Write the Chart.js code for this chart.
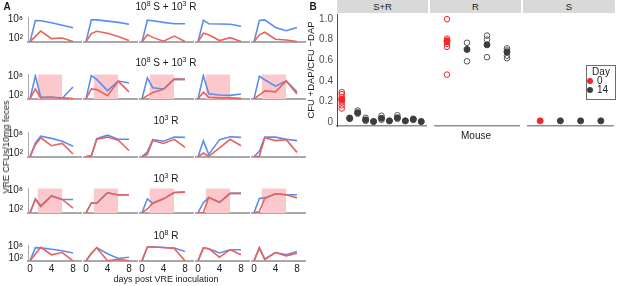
<!DOCTYPE html>
<html><head><meta charset="utf-8">
<script src="https://cdn.jsdelivr.net/npm/chart.js@4.4.1/dist/chart.umd.min.js"></script>
<style>
html,body{margin:0;padding:0;background:#fff;}
body{width:617px;height:286px;position:relative;overflow:hidden;font-family:"Liberation Sans",Arial,sans-serif;color:#1a1a1a;}
canvas{position:absolute;}
.t{position:absolute;white-space:nowrap;font-size:10px;line-height:12px;transform:translate(-50%,-50%);}
.t sup{font-size:7px;line-height:0;vertical-align:4px;}
</style></head><body>
<script>
// ---------------- DATA : panel A ----------------
const days = [0, 1, 2, 4, 6, 8];
const rowTitles = ['10⁸ S + 10³ R', '10⁸ S + 10³ R', '10³ R', '10³ R', '10⁸ R'];
const rowShaded = [false, true, false, true, false];
const shadeWindow = [1.4, 6];      // days of the shaded window
const shadeTop = 8.45;             // log10 CFU
const yTicksA = [2, 8];
const yTickLabelsA = ['10²', '10⁸'];
const xTicksA = [0, 4, 8];

// log10 VRE CFUs, one array per mouse (columns), one pair per row
const row1Blue = [[0.8,7.5,7.4,6.8,6.0,5.2],[0.8,7.7,7.7,7.3,6.9,6.3],[0.8,7.6,7.4,6.9,6.5,6.5],[0.8,7.6,6.5,6.4,6.3,5.7],[0.8,7.5,7.7,5.3,4.3,5.3]];
const row1Red  = [[0.8,2.5,4.2,1.8,2.0,0.9],[0.8,3.4,4.1,3.5,2.5,1.2],[0.8,3.0,2.2,1.0,2.6,0.9],[0.8,3.5,3.0,1.2,2.1,0.9],[0.8,3.0,3.8,1.6,1.4,0.9]];
const row2Blue = [[0.8,8.0,1.3,1.4,1.0,4.5],[0.8,8.1,6.9,3.4,6.4,5.8],[0.8,7.4,4.3,3.9,7.0,6.9],[0.8,8.1,2.4,2.0,1.9,2.3],[0.8,7.9,6.8,4.8,6.4,3.0]];
const row2Red  = [[0.8,3.9,1.1,1.2,1.1,0.9],[0.8,3.9,3.7,1.8,6.3,3.0],[0.8,1.8,2.8,3.8,7.0,6.9],[0.8,2.9,1.3,1.1,1.1,1.0],[0.8,2.0,3.3,3.0,6.4,2.3]];
const row3Blue = [[0.8,5.2,7.3,6.6,5.7,4.1],[0.8,1.2,6.5,7.6,6.3,6.3],[0.8,2.4,6.2,5.7,7.0,6.9],[0.8,5.9,1.5,6.2,7.1,6.9],[0.8,2.5,7.0,7.0,6.3,5.9]];
const row3Red  = [[0.8,4.6,6.8,4.3,5.0,1.7],[0.8,1.1,6.3,7.0,6.0,2.8],[0.8,1.6,5.9,5.0,6.3,3.8],[0.8,2.0,0.9,3.6,6.3,4.3],[0.8,1.0,6.8,5.9,6.2,2.2]];
const row4Blue = [[0.8,5.2,3.0,6.2,5.0,5.0],[0.8,3.9,3.8,7.1,6.4,6.5],[0.8,5.2,3.8,5.2,7.2,7.3],[0.8,4.0,5.6,4.1,6.9,6.9],[0.8,5.3,5.5,6.8,6.5,6.5]];
const row4Red  = [[0.8,5.0,2.8,6.0,5.0,2.3],[0.8,3.9,3.8,7.1,6.4,6.5],[0.8,2.0,3.8,5.2,7.2,7.3],[0.8,0.9,5.6,4.1,6.9,6.9],[0.8,1.2,5.3,6.8,6.5,5.5]];
const row5Blue = [[0.8,7.3,7.2,6.5,5.8,4.7],[0.8,4.5,7.3,4.3,2.0,2.6],[0.8,7.6,7.6,7.4,7.1,5.4],[0.8,7.2,6.8,4.7,6.3,6.3],[0.8,7.2,1.6,4.9,3.8,5.4]];
const row5Red  = [[0.8,4.2,7.4,3.8,4.9,0.8],[0.8,4.5,7.3,0.9,1.6,0.8],[0.8,7.6,7.6,7.4,6.9,0.8],[0.8,7.2,6.8,2.6,6.3,3.8],[0.8,7.2,1.6,4.9,3.3,4.6]];

// ---------------- DATA : panel B ----------------
const facets = ['S+R', 'R', 'S'];
const yTicksB = [0, 0.2, 0.4, 0.6, 0.8, 1];
const legendDays = ['0', '14'];
const srDay0Open = [0.29, 0.27, 0.24, 0.21, 0.19, 0.16, 0.13];
const srDay0Mean = [0.22];
const srDay14Mean = [0.035, 0.09, 0.02, 0.005, 0.035, 0.01, 0.04, 0.01, 0.025, 0.005];
const srDay14Open = [[0.04,0.03],[0.11,0.08],[0.04,0.01],[0.0],[0.06,0.02],[0.01],[0.065,0.03],[0.01],[0.03,0.02],[0.0]];
const rDay0Open = [1.0, 0.81, 0.78, 0.76, 0.73, 0.46];
const rDay0Mean = [0.79];
const rDay14Mean = [0.705, 0.75, 0.68];
const rDay14Open = [[0.77, 0.59], [0.84, 0.80, 0.63], [0.715, 0.695, 0.645, 0.62]];
const sDay0Mean = [0.01];
const sDay14Mean = [0.01, 0.01, 0.01];

// ---------------- styles / layout ----------------
const BLUE = '#5b8dec', RED = '#e8635f', PINK = '#fbc9cc', AXIS = '#a9a9a9';
const BRED = '#f0262b', DARK = '#3d3d3d', OPEN_GRAY = '#555555';
Chart.defaults.font.family = '"Liberation Sans", Arial, sans-serif';
const rowTop = [17, 74, 132, 188, 245];
const rowBase = [42, 99, 157, 213, 261];
const colLeft = [28, 84, 140, 196, 252];
const plotW = 53;
const X_MIN = -0.37, X_MAX = 9.49, Y_MIN = 0.75, Y_MAX = 8.6;
const rowsBlue = [row1Blue, row2Blue, row3Blue, row4Blue, row5Blue];
const rowsRed = [row1Red, row2Red, row3Red, row4Red, row5Red];

function makeCanvas(left, top, w, h) {
  const c = document.createElement('canvas');
  c.width = w; c.height = h;
  c.style.left = left + 'px'; c.style.top = top + 'px';
  c.style.width = w + 'px'; c.style.height = h + 'px';
  document.body.appendChild(c);
  return c;
}
function label(text, cx, cy, extra) {
  const d = document.createElement('div');
  d.className = 't';
  d.textContent = text;
  d.style.left = cx + 'px'; d.style.top = cy + 'px';
  if (extra) Object.assign(d.style, extra);
  document.body.appendChild(d);
  return d;
}
const SUP = {'⁰':'0','¹':'1','²':'2','³':'3','⁴':'4','⁵':'5','⁶':'6','⁷':'7','⁸':'8','⁹':'9'};
function supLabel(text, cx, cy) {
  const d = label('', cx, cy);
  for (const ch of text) {
    if (SUP[ch]) { const s = document.createElement('sup'); s.textContent = SUP[ch]; d.appendChild(s); }
    else d.appendChild(document.createTextNode(ch));
  }
  return d;
}

function panelA(r, c) {
  const isLeft = c === 0, isBottom = r === 4;
  const padL = isLeft ? 30 : 2, padT = 6, padR = 2, padB = isBottom ? 16 : 3;
  const plotH = rowBase[r] - rowTop[r];
  const cv = makeCanvas(colLeft[c] - padL, rowTop[r] - padT, padL + plotW + padR, padT + plotH + padB);
  const datasets = [
    {data: days.map((d, i) => ({x: d, y: rowsRed[r][c][i]})), borderColor: RED, borderWidth: 1.6, pointRadius: 0, order: 1, fill: false},
    {data: days.map((d, i) => ({x: d, y: rowsBlue[r][c][i]})), borderColor: BLUE, borderWidth: 1.6, pointRadius: 0, order: 2, fill: false}
  ];
  if (rowShaded[r]) {
    datasets.push({data: shadeWindow.map(x => ({x: x, y: shadeTop})), borderColor: 'rgba(0,0,0,0)', borderWidth: 0,
      backgroundColor: PINK, fill: 'start', pointRadius: 0, order: 3});
  }
  new Chart(cv, {
    type: 'line',
    data: {datasets},
    options: {
      responsive: false, animation: false, events: [],
      layout: {padding: {left: isLeft ? 0 : padL, top: padT, right: padR, bottom: 0}},
      plugins: {legend: {display: false}, tooltip: {enabled: false}},
      scales: {
        x: {type: 'linear', min: X_MIN, max: X_MAX,
          grid: {display: false, drawTicks: false},
          border: {display: true, color: AXIS, width: 2},
          ticks: {display: isBottom, font: {size: 10}, color: '#1a1a1a', padding: 2, maxRotation: 0, autoSkip: false},
          afterBuildTicks: s => { s.ticks = xTicksA.map(v => ({value: v})); },
          afterFit: s => { s.height = padB; s.paddingLeft = 0; s.paddingRight = 0; }},
        y: {type: 'linear', min: Y_MIN, max: Y_MAX, display: isLeft,
          grid: {display: false, drawTicks: false},
          border: {display: true, color: AXIS, width: 1},
          ticks: {font: {size: 10}, color: '#1a1a1a', padding: 5,
            callback: v => yTickLabelsA[yTicksA.indexOf(v)]},
          afterBuildTicks: s => { s.ticks = yTicksA.map(v => ({value: v})); },
          afterFit: s => { s.width = isLeft ? padL : 0; s.paddingTop = 0; s.paddingBottom = 0; }}
      }
    }
  });
}
for (let r = 0; r < 5; r++) for (let c = 0; c < 5; c++) panelA(r, c);

// ---------------- panel B ----------------
const B_TOP = 14, B_BOTTOM = 128;
const facetLeft = [337, 430, 523], facetW = [91, 91, 92];
function pts(xs, ys) { return ys.map((y, i) => ({x: xs[i], y: y})); }
function ds(data, style) {
  return Object.assign({data, showLine: false, clip: false, pointRadius: 2.8, pointBorderWidth: 1}, style);
}
const openRed = {pointBackgroundColor: 'rgba(0,0,0,0)', pointBorderColor: BRED, order: 3};
const fillRed = {pointBackgroundColor: BRED, pointBorderColor: BRED, order: 1, pointRadius: 3};
const openGray = {pointBackgroundColor: 'rgba(0,0,0,0)', pointBorderColor: OPEN_GRAY, order: 3};
const fillDark = {pointBackgroundColor: DARK, pointBorderColor: DARK, order: 1, pointRadius: 3};

function flatOpen(groups, startX) {
  const out = [];
  groups.forEach((g, i) => g.forEach(v => out.push({x: startX + i, y: v})));
  return out;
}
const bData = [
  [ds(srDay0Open.map(v => ({x: 1, y: v})), openRed), ds(pts([1], srDay0Mean), fillRed),
   ds(flatOpen(srDay14Open, 2), openGray), ds(srDay14Mean.map((v, i) => ({x: i + 2, y: v})), fillDark)],
  [ds(rDay0Open.map(v => ({x: 1, y: v})), openRed), ds(pts([1], rDay0Mean), fillRed),
   ds(flatOpen(rDay14Open, 2), openGray), ds(rDay14Mean.map((v, i) => ({x: i + 2, y: v})), fillDark)],
  [ds(pts([1], sDay0Mean), fillRed), ds(sDay14Mean.map((v, i) => ({x: i + 2, y: v})), fillDark)]
];
const nCats = [1 + srDay14Mean.length, 1 + rDay14Mean.length, 1 + sDay14Mean.length];

function panelB(i) {
  const showY = i === 0;
  const padL = showY ? 37 : 0, padT = 6, padB = 3, padR = 3;
  const cv = makeCanvas(facetLeft[i] - padL, B_TOP - padT, padL + facetW[i] + padR, padT + (B_BOTTOM - B_TOP) + padB);
  new Chart(cv, {
    type: 'scatter',
    data: {datasets: bData[i]},
    options: {
      responsive: false, animation: false, events: [],
      layout: {padding: {left: 0, top: padT, right: padR, bottom: 0}},
      plugins: {legend: {display: false}, tooltip: {enabled: false}},
      scales: {
        x: {type: 'linear', min: 0.4, max: nCats[i] + 0.6,
          grid: {display: false, drawTicks: false},
          border: {display: true, color: '#8f8f8f', width: 1.5},
          ticks: {display: false},
          afterFit: s => { s.height = padB; s.paddingLeft = 0; s.paddingRight = 0; }},
        y: {type: 'linear', min: -0.04, max: 1.05, display: showY,
          grid: {display: false, drawTicks: false},
          border: {display: true, color: '#4a4a4a', width: 1},
          title: {display: showY, text: 'CFU +DAP/CFU −DAP', font: {size: 9.5}, color: '#1a1a1a', padding: {top: 6, bottom: 0}},
          ticks: {font: {size: 10}, color: '#4d4d4d', padding: 4},
          afterBuildTicks: s => { s.ticks = yTicksB.map(v => ({value: v})); },
          afterFit: s => { s.width = padL; s.paddingTop = 0; s.paddingBottom = 0; }}
      }
    }
  });
  const strip = document.createElement('div');
  strip.textContent = facets[i];
  Object.assign(strip.style, {position: 'absolute', left: facetLeft[i] + 'px', top: '0px', width: facetW[i] + 'px', height: '13px',
    background: '#d9d9d9', fontSize: '9.5px', lineHeight: '13px', textAlign: 'center', color: '#1a1a1a'});
  document.body.appendChild(strip);
}
for (let i = 0; i < 3; i++) panelB(i);

// ---------------- text ----------------
label('A', 7, 7, {fontWeight: 'bold', fontSize: '10px'});
label('B', 313, 7, {fontWeight: 'bold', fontSize: '10px'});
const titleY = [7, 63, 121, 179, 236];
rowTitles.forEach((t, r) => supLabel(t, 166, titleY[r]));
label('VRE CFUs/10mg feces', 6, 147, {transform: 'translate(-50%,-50%) rotate(-90deg)', fontSize: '9px'});
label('days post VRE inoculation', 166, 279, {fontSize: '9px'});
label('Mouse', 476, 136);

// legend
const lg = document.createElement('div');
Object.assign(lg.style, {position: 'absolute', left: '586px', top: '65px', width: '30px', height: '35px', boxSizing: 'border-box',
  border: '1px solid #6b6b6b', background: '#fff'});
document.body.appendChild(lg);
label('Day', 601, 72);
const legCols = [BRED, DARK];
legendDays.forEach((d, i) => {
  const dot = document.createElement('div');
  Object.assign(dot.style, {position: 'absolute', left: '587px', top: (78 + i * 9) + 'px', width: '6px', height: '6px', borderRadius: '50%', background: legCols[i]});
  document.body.appendChild(dot);
  const tx = label(d, 0, 81 + i * 9, {transform: 'translate(0,-50%)'});
  tx.style.left = '597px';
});
</script>
</body></html>
